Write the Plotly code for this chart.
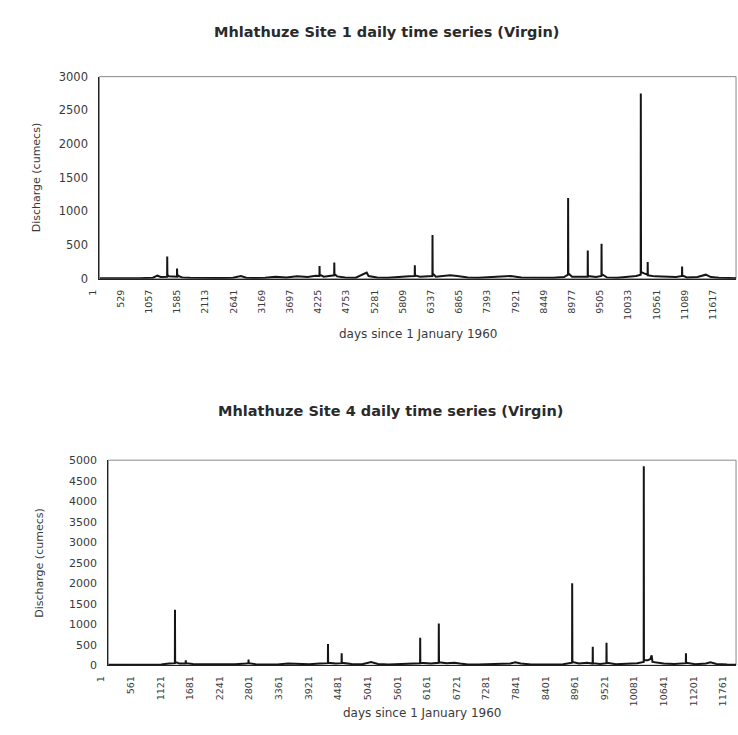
import plotly.graph_objects as go

# Mhlathuze Site 1: daily discharge (cumecs), read as (day, value) points
site1_day = [1, 250, 500, 750, 1000, 1086, 1150, 1268, 1270, 1273, 1300, 1452, 1454, 1457,
             1480, 1550, 1700, 1900, 2100, 2300, 2500, 2650, 2750, 2900, 3100, 3300, 3500,
             3700, 3900, 4050, 4120, 4122, 4125, 4200, 4396, 4398, 4401, 4450, 4600, 4800,
             5005, 5040, 5200, 5400, 5600, 5800, 5904, 5906, 5909, 6000, 6235, 6237, 6240,
             6300, 6450, 6568, 6700, 6900, 7100, 7300, 7500, 7700, 7900, 8100, 8300, 8500,
             8700, 8774, 8776, 8777, 8780, 8850, 9000, 9142, 9144, 9147, 9300, 9400, 9402,
             9405, 9500, 9700, 9900, 10050, 10135, 10137, 10138, 10141, 10200, 10264, 10266,
             10269, 10400, 10600, 10800, 10908, 10910, 10913, 11000, 11200, 11352, 11450,
             11600, 11800, 11920]
site1_cumecs = [8, 5, 6, 7, 15, 45, 25, 30, 330, 60, 35, 30, 150, 60,
                40, 20, 15, 12, 20, 10, 15, 40, 15, 10, 15, 30, 20,
                35, 25, 45, 40, 190, 60, 30, 50, 240, 70, 35, 20, 15,
                90, 40, 20, 15, 20, 35, 40, 200, 50, 30, 40, 650, 80,
                30, 45, 50, 40, 20, 15, 20, 35, 40, 20, 15, 10, 15,
                25, 60, 1200, 520, 80, 30, 25, 30, 420, 40, 25, 40, 520,
                70, 20, 15, 30, 40, 60, 2750, 1600, 100, 80, 60, 250,
                50, 35, 30, 25, 40, 180, 50, 20, 25, 60, 25,
                15, 10, 8]

# Mhlathuze Site 4: daily discharge (cumecs), read as (day, value) points
site4_day = [1, 250, 500, 750, 1000, 1150, 1260, 1262, 1265, 1350, 1464, 1466, 1469, 1600,
             1800, 2000, 2200, 2400, 2600, 2651, 2653, 2656, 2800, 3000, 3200, 3400, 3600,
             3800, 4000, 4153, 4155, 4158, 4300, 4412, 4414, 4417, 4600, 4800, 4970, 5100,
             5300, 5500, 5700, 5896, 5898, 5901, 6100, 6248, 6250, 6251, 6254, 6400, 6547,
             6650, 6800, 7000, 7200, 7400, 7600, 7697, 7800, 8000, 8200, 8400, 8600, 8770,
             8772, 8773, 8776, 8900, 9050, 9159, 9161, 9164, 9300, 9419, 9421, 9424, 9600,
             9800, 10000, 10124, 10126, 10129, 10200, 10250, 10274, 10290, 10500, 10700,
             10921, 10923, 10926, 11100, 11300, 11386, 11500, 11700, 11870]
site4_cumecs = [10, 8, 8, 10, 20, 40, 50, 1350, 80, 40, 40, 120, 50, 30,
                25, 30, 20, 25, 40, 50, 140, 50, 20, 15, 20, 40, 30,
                25, 40, 50, 520, 60, 40, 50, 290, 60, 30, 25, 80, 30,
                20, 30, 40, 50, 670, 60, 40, 60, 1020, 480, 70, 50, 60,
                40, 20, 15, 25, 20, 40, 70, 40, 20, 15, 15, 25, 60,
                2000, 790, 80, 40, 60, 40, 450, 50, 30, 50, 550, 60, 25,
                30, 50, 80, 4850, 120, 120, 150, 240, 80, 40, 30,
                50, 290, 60, 25, 40, 70, 30, 15, 10]

# Category tick labels along the day axis
site1_ticks = [1, 529, 1057, 1585, 2113, 2641, 3169, 3697, 4225, 4753, 5281, 5809,
               6337, 6865, 7393, 7921, 8449, 8977, 9505, 10033, 10561, 11089, 11617]
site4_ticks = [1, 561, 1121, 1681, 2241, 2801, 3361, 3921, 4481, 5041, 5601, 6161,
               6721, 7281, 7841, 8401, 8961, 9521, 10081, 10641, 11201, 11761]
site1_yticks = [0, 500, 1000, 1500, 2000, 2500, 3000]
site4_yticks = [0, 500, 1000, 1500, 2000, 2500, 3000, 3500, 4000, 4500, 5000]

W, H = 738, 735
FONT = "DejaVu Sans"
TXT = "#3a3a3a"


def px_x(p):
    return p / W


def px_y(p):
    return 1 - p / H


fig = go.Figure()
fig.add_trace(go.Scatter(x=site1_day, y=site1_cumecs, mode="lines",
                         line=dict(color="#151515", width=2),
                         xaxis="x", yaxis="y", showlegend=False))
fig.add_trace(go.Scatter(x=site4_day, y=site4_cumecs, mode="lines",
                         line=dict(color="#151515", width=2),
                         xaxis="x2", yaxis="y2", showlegend=False))

xcommon = dict(showgrid=False, zeroline=False, showline=True, linecolor="#222",
               linewidth=1.3, tickangle=-90, ticks="",
               tickfont=dict(family=FONT, size=9.5, color=TXT),
               ticklabelstandoff=6, ticklabelshift=-7)
ycommon = dict(showgrid=False, zeroline=False, showline=True, linecolor="#222",
               linewidth=1.3, ticks="", ticklabelstandoff=8)

fig.update_layout(
    width=W, height=H, margin=dict(l=0, r=0, t=0, b=0),
    paper_bgcolor="white", plot_bgcolor="white",
    xaxis=dict(xcommon, domain=[px_x(88), px_x(736)], range=[1, 11920],
               tickvals=site1_ticks, ticktext=[str(t) for t in site1_ticks],
               anchor="y"),
    yaxis=dict(ycommon, domain=[px_y(277), px_y(71)], range=[0, 3000],
               tickvals=site1_yticks, anchor="x",
               tickfont=dict(family=FONT, size=11.5, color=TXT)),
    xaxis2=dict(xcommon, domain=[px_x(97), px_x(736)], range=[1, 11870],
                tickvals=site4_ticks, ticktext=[str(t) for t in site4_ticks],
                anchor="y2"),
    yaxis2=dict(ycommon, domain=[px_y(671), px_y(462)], range=[0, 5000],
                tickvals=site4_yticks, anchor="x2",
                tickfont=dict(family=FONT, size=11, color=TXT)),
)

# light plot-area border (top and right edges)
for xr, yr in (("x domain", "y domain"), ("x2 domain", "y2 domain")):
    fig.add_shape(type="rect", xref=xr, yref=yr, x0=0, x1=1, y0=0, y1=1,
                  line=dict(color="#8a8a8a", width=1), layer="below")


def label(text, cx, cy, size, color=TXT, angle=0, bold=False):
    fig.add_annotation(text=f"<b>{text}</b>" if bold else text,
                       x=px_x(cx), y=px_y(cy), xref="paper", yref="paper",
                       xanchor="center", yanchor="middle", showarrow=False,
                       textangle=angle, font=dict(family=FONT, size=size, color=color))


label("Mhlathuze Site 1 daily time series (Virgin)", 380, 25, 14.5, "#2a2a2a", bold=True)
label("Mhlathuze Site 4 daily time series (Virgin)", 384, 412, 14.5, "#2a2a2a", bold=True)
label("days since 1 January 1960", 412, 333, 12)
label("days since 1 January 1960", 416, 720, 12)
label("Discharge (cumecs)", 24, 174, 11, angle=-90)
label("Discharge (cumecs)", 27, 567, 11, angle=-90)

fig.write_html("out.html")
